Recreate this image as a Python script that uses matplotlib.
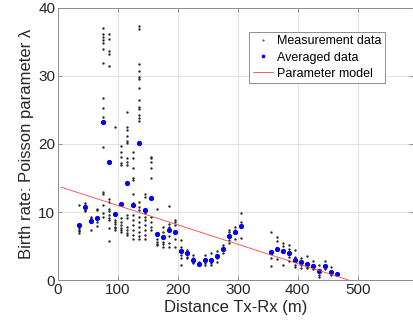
import matplotlib
matplotlib.use("Agg")
import matplotlib.pyplot as plt
import numpy as np

plt.rcParams['font.family'] = ['Liberation Sans', 'DejaVu Sans']

# Measurement data: bin distance -> measured values
meas_bins = [35, 45, 55, 65, 75, 85, 95, 105, 115, 125, 135, 145, 155, 165, 175, 185,
             195, 205, 215, 225, 235, 245, 255, 265, 275, 285, 295, 305,
             355, 365, 375, 385, 395, 405, 415, 425, 435, 445, 455]
meas_vals = [
    [11.0, 7.6, 7.4, 7.2, 6.9],
    [11.3, 11.0, 10.3, 10.1],
    [9.3, 9.1, 8.6, 7.4],
    [10.5, 10.3, 8.6, 7.9],
    [37.1, 36.2, 35.8, 35.3, 34.8, 34.0, 31.9, 26.7, 25.3, 23.9, 19.6, 13.0, 12.6, 11.0, 9.8, 9.3],
    [36.2, 35.5, 33.7, 33.2, 31.5, 11.9, 11.4, 10.5, 10.1, 9.6, 9.1, 8.8, 7.6, 5.8],
    [22.5, 8.8, 8.6, 8.3, 7.8, 7.6, 7.4],
    [19.75, 18.8, 18.1, 17.2, 16.9, 9.1, 8.6, 8.1, 7.7, 7.4, 7.1],
    [24.75, 22.45, 22.06, 21.2, 20.4, 20.1, 17.9, 17.4, 16.9, 9.6, 9.1, 7.8, 7.4, 6.9, 6.6],
    [18.8, 17.9, 16.4, 14.95, 14.7, 12.7, 11.3, 9.6, 8.8, 8.1, 7.4, 6.6, 6.1],
    [37.4, 36.96, 31.7, 30.8, 29.9, 29.6, 28.2, 26.4, 25.5, 25.1, 24.3, 23.8, 23.4,
     11.5, 10.8, 10.3, 9.3, 8.6, 7.8, 7.1, 6.4, 6.1],
    [12.7, 12.2, 9.8, 9.3, 8.8, 8.1, 7.4, 6.6, 6.1],
    [18.1, 17.9, 17.4, 16.4, 14.95, 9.3, 8.6, 7.8, 7.4],
    [10.5, 6.0, 5.6, 5.3, 5.1],
    [7.8, 7.1, 5.6, 5.3, 4.8],
    [10.9, 8.3, 7.8, 6.4, 5.5, 4.8],
    [8.8, 8.6, 8.1, 6.1, 4.8],
    [5.9, 4.9, 3.7, 3.2, 2.2],
    [4.4, 3.4, 3.2],
    [3.7, 3.2, 2.7, 2.5],
    [2.7, 2.5, 2.2],
    [3.7, 2.5, 2.2],
    [3.9, 2.5, 2.2],
    [4.2, 3.2, 2.7],
    [5.1, 4.9, 3.9],
    [7.4, 7.0, 5.9, 5.4],
    [7.8, 7.4, 6.1],
    [9.9, 8.6, 6.2],
    [7.0, 3.2, 2.06],
    [6.3, 5.8, 3.1],
    [5.5, 5.0, 2.25],
    [5.1, 4.5, 3.4, 2.8],
    [4.4, 3.4, 2.25, 1.9],
    [3.3, 2.2, 1.7],
    [3.5, 1.96, 1.7],
    [2.8, 1.6],
    [2.2, 0.7, 0.4],
    [2.8, 1.6],
    [1.96, 0.7],
]

# Averaged data
avg_x = [35, 45, 55, 65, 75, 85, 95, 105, 115, 125, 135, 145, 155, 165, 175, 185,
         195, 205, 215, 225, 235, 245, 255, 265, 275, 285, 295, 305,
         355, 365, 375, 385, 395, 405, 415, 425, 435, 445, 455, 465]
avg_y = [8.1, 10.8, 8.7, 9.1, 23.3, 17.4, 9.7, 11.2, 14.2, 11.1, 20.1, 10.3, 12.0, 6.8,
         6.3, 7.3, 7.1, 4.2, 3.9, 2.9, 2.3, 2.9, 2.9, 3.5, 4.6, 6.4, 7.0, 8.0,
         4.1, 4.6, 4.2, 4.0, 2.9, 2.7, 2.35, 2.06, 1.27, 2.06, 1.23, 0.83]

# Parameter model (linear)
model_intercept = 13.8
model_slope = -0.0285
model_range = [5, 484]

meas_x = np.concatenate([[b] * len(v) for b, v in zip(meas_bins, meas_vals)])
meas_y = np.concatenate(meas_vals)

fig = plt.figure(figsize=(4.14, 3.30), dpi=100)
ax = fig.add_axes([0.140, 0.1515, 0.8576, 0.8243])

ax.plot(meas_x, meas_y, '.', color='#202020', markersize=1.4, linestyle='none', label='Measurement data')
ax.plot(avg_x, avg_y, '.', color='#0000ff', markersize=5.5, linestyle='none', label='Averaged data')
mx = np.array(model_range, dtype=float)
ax.plot(mx, model_intercept + model_slope * mx, color='#f04848', lw=0.6, label='Parameter model')

ax.set_xlim(0, 592)
ax.set_ylim(0, 40)
ax.set_xticks([0, 100, 200, 300, 400, 500])
ax.set_yticks([0, 10, 20, 30, 40])
ax.grid(True, color='#e3e3e3', linewidth=0.7)
ax.set_axisbelow(True)
ax.tick_params(direction='in', length=3, width=0.6, top=True, right=True,
               labelsize=11, colors='#808080', labelcolor='#262626', pad=2)
for s in ax.spines.values():
    s.set_color('#8c8c8c')
    s.set_linewidth(0.7)

ax.set_xlabel('Distance Tx-Rx (m)', fontsize=12, color='#262626', labelpad=2)
ax.set_ylabel('Birth rate: Poisson parameter λ', fontsize=12, color='#262626', labelpad=3)

leg = ax.legend(loc='upper left', bbox_to_anchor=(0.538, 0.913), fontsize=9,
                frameon=True, fancybox=False, framealpha=1, edgecolor='#8c8c8c',
                borderpad=0.3, labelspacing=0.33, handlelength=1.6, handletextpad=0.35,
                borderaxespad=0, markerscale=0.6)
leg.get_frame().set_linewidth(0.7)

fig.savefig('out.png', dpi=100)
